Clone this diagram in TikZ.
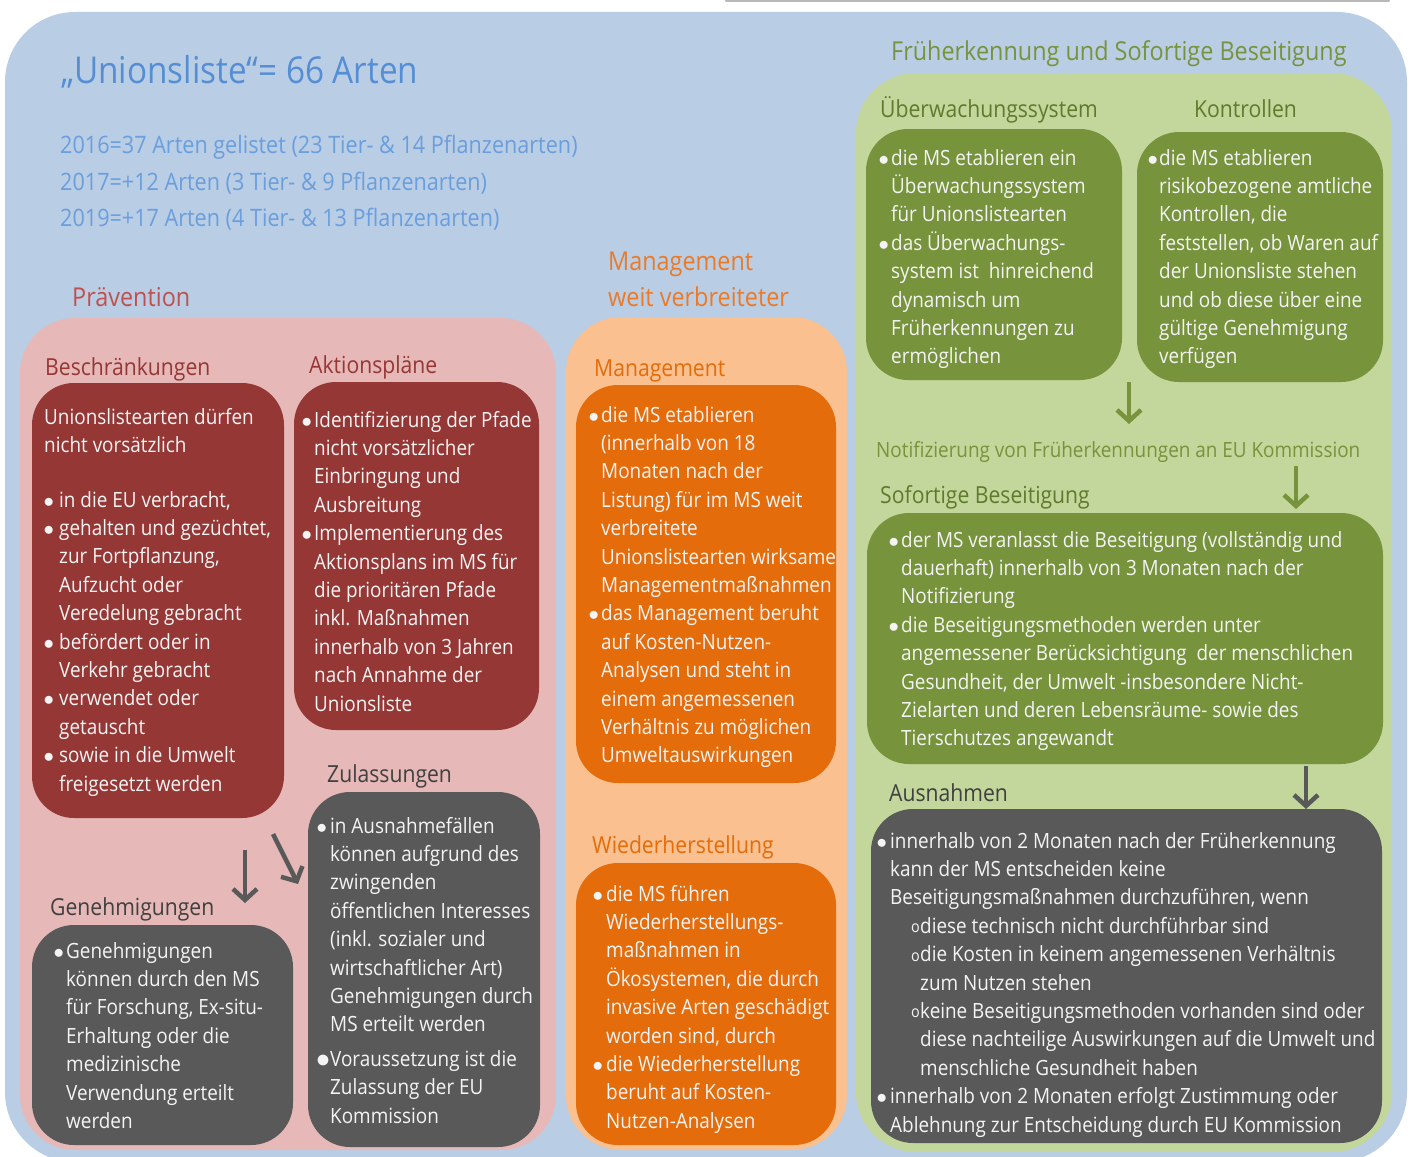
\documentclass[tikz,border=0pt]{standalone}
\usepackage{fontspec}
\setmainfont[FakeStretch=0.9]{Open Sans}
\usetikzlibrary{arrows.meta}
\definecolor{bgblue}{HTML}{B9CDE5}
\definecolor{titleblue}{HTML}{558ED5}
\definecolor{subblue}{HTML}{6A9EDD}
\definecolor{pinkbg}{HTML}{E6B9B8}
\definecolor{darkred}{HTML}{953735}
\definecolor{labred}{HTML}{C0504D}
\definecolor{boxgray}{HTML}{595959}
\definecolor{labgray}{HTML}{404040}
\definecolor{orangebg}{HTML}{FAC090}
\definecolor{darkorange}{HTML}{E46C0A}
\definecolor{laborange}{HTML}{EB7A26}
\definecolor{greenbg}{HTML}{C3D69B}
\definecolor{darkgreen}{HTML}{77933C}
\definecolor{labgreen}{HTML}{5E7B2D}
\definecolor{txtwhite}{HTML}{F4F4F4}
\newcommand\bodyf{\fontsize{21}{28.4}\selectfont}
\newcommand\labf{\fontsize{23.5}{28}\selectfont}
\newcommand\bigf{\fontsize{26}{36}\selectfont}
\newcommand\bl[1][11pt]{\makebox[#1][l]{\hspace*{-1.5pt}$\bullet$}}
\newcommand\bigbl[1][11pt]{\makebox[#1][l]{\hspace*{-2pt}\raisebox{-1.6pt}{\scalebox{1.35}{$\bullet$}}}}
\newcommand\ind[1][11pt]{\hspace*{#1}}
\newcommand\subo{\hspace*{33pt}\makebox[9pt][l]{\raisebox{0.5pt}{\fontsize{16}{16}\selectfont o}}}
\newcommand\tl[1]{\begin{tabular}[t]{@{}l@{}}#1\end{tabular}}
\begin{document}
\begin{tikzpicture}[x=1pt,y=-1pt,
  boxr/.style={rounded corners=42},
  body/.style={anchor=base west, inner sep=0pt, font=\bodyf, text=txtwhite},
  lab/.style={anchor=base west, inner sep=0pt, font=\labf},
  big/.style={anchor=base west, inner sep=0pt, font=\bigf},
  arr/.style={line width=4.5pt, -{Straight Barb[length=11pt,width=24pt]}}]
\useasboundingbox (0,0) rectangle (1410,1156);
% backgrounds
\fill[bgblue, rounded corners=70] (5,12) rectangle (1407,1162);
\draw[gray!55, line width=2.2pt, line cap=round] (726,0.6) -- (1389,0.6);
\fill[pinkbg, rounded corners=55] (20,318) rectangle (556,1150);
\fill[orangebg, rounded corners=55] (566,317) rectangle (847,1150);
\fill[greenbg, rounded corners=60] (856,73) rectangle (1392,1152);
% title
\node[anchor=base west, inner sep=0pt, font=\fontsize{37}{40}\selectfont, text=titleblue] (title) at (61,83) {„Unionsliste“= 66 Arten};
\node[anchor=base west, inner sep=0pt, font=\fontsize{24}{30}\selectfont, text=subblue] (y16) at (60,153) {2016=37 Arten gelistet (23 Tier- \& 14 Pflanzenarten)};
\node[anchor=base west, inner sep=0pt, font=\fontsize{24}{30}\selectfont, text=subblue] (y17) at (60,190) {2017=+12 Arten (3 Tier- \& 9 Pflanzenarten)};
\node[anchor=base west, inner sep=0pt, font=\fontsize{24}{30}\selectfont, text=subblue] (y19) at (60,226) {2019=+17 Arten (4 Tier- \& 13 Pflanzenarten)};
% section labels
\node[big, text=labred] (praev) at (72,306) {Prävention};
\node[big, text=laborange] (mgmtw) at (608,270) {\tl{Management\\weit verbreiteter}};
\node[big, text=darkgreen] (frueh) at (891,60) {Früherkennung und Sofortige Beseitigung};
% ---------- Prävention
\node[lab, text=darkred] (lbesch) at (45,375) {Beschränkungen};
\fill[darkred, boxr] (32,383) rectangle (284,818);
\node[body] (besch1) at (44,424) {\tl{Unionslistearten dürfen\\nicht vorsätzlich}};
\node[body] (besch2) at (45,507) {\tl{\bl[14pt]in die EU verbracht,\\
\bl[14pt]gehalten und gezüchtet,\\\ind[14pt]zur Fortpflanzung,\\\ind[14pt]Aufzucht oder\\\ind[14pt]Veredelung gebracht\\
\bl[14pt]befördert oder in\\\ind[14pt]Verkehr gebracht\\
\bl[14pt]verwendet oder\\\ind[14pt]getauscht\\
\bl[14pt]sowie in die Umwelt\\\ind[14pt]freigesetzt werden}};

\node[lab, text=darkred] (lakt) at (309,373) {Aktionspläne};
\fill[darkred, boxr] (294,382) rectangle (539,730);
\node[body] (akt) at (303,427) {\tl{\bl Identifizierung der Pfade\\\ind nicht vorsätzlicher\\\ind Einbringung und\\\ind Ausbreitung\\
\bl Implementierung des\\\ind Aktionsplans im MS für\\\ind die prioritären Pfade\\\ind inkl. Maßnahmen\\\ind innerhalb von 3 Jahren\\\ind nach Annahme der\\\ind Unionsliste}};

\node[lab, text=labgray] (lzul) at (327,782) {Zulassungen};
\fill[boxgray, boxr] (308,792) rectangle (540,1147);
\node[body] (zul) at (318,833) {\tl{\bl[12pt]in Ausnahmefällen\\\ind[12pt]können aufgrund des\\\ind[12pt]zwingenden\\\ind[12pt]öffentlichen Interesses\\\ind[12pt](inkl. sozialer und\\\ind[12pt]wirtschaftlicher Art)\\\ind[12pt]Genehmigungen durch\\\ind[12pt]MS erteilt werden\\[6pt]
\bigbl[12pt]Voraussetzung ist die\\\ind[12pt]Zulassung der EU\\\ind[12pt]Kommission}};

\node[lab, text=labgray] (lgen) at (50,915) {Genehmigungen};
\fill[boxgray, boxr] (32,925) rectangle (293,1145);
\node[body] (gen) at (55,958) {\tl{\bl Genehmigungen\\\ind können durch den MS\\\ind für Forschung, Ex-situ-\\\ind Erhaltung oder die\\\ind medizinische\\\ind Verwendung erteilt\\\ind werden}};

\coordinate (g1s) at (245,850); \coordinate (g1e) at (245,903);
\coordinate (g2s) at (273,834); \coordinate (g2e) at (298,884);
\draw[arr, boxgray] (g1s) -- (g1e);
\draw[arr, boxgray] (g2s) -- (g2e);
% ---------- Management
\node[lab, text=darkorange] (lmgmt) at (594,376) {Management};
\fill[darkorange, boxr] (576,385) rectangle (836,783);
\node[body] (mgmt) at (590,422) {\tl{\bl die MS etablieren\\\ind (innerhalb von 18\\\ind Monaten nach der\\\ind Listung) für im MS weit\\\ind verbreitete\\\ind Unionslistearten wirksame\\\ind Managementmaßnahmen\\
\bl das Management beruht\\\ind auf Kosten-Nutzen-\\\ind Analysen und steht in\\\ind einem angemessenen\\\ind Verhältnis zu möglichen\\\ind Umweltauswirkungen}};

\node[lab, text=darkorange] (lwied) at (592,853) {Wiederherstellung};
\fill[darkorange, boxr] (576,863) rectangle (836,1145);
\node[body] (wied) at (594,901) {\tl{\bl[12pt]die MS führen\\\ind[12pt]Wiederherstellungs-\\\ind[12pt]maßnahmen in\\\ind[12pt]Ökosystemen, die durch\\\ind[12pt]invasive Arten geschädigt\\\ind[12pt]worden sind, durch\\
\bl[12pt]die Wiederherstellung\\\ind[12pt]beruht auf Kosten-\\\ind[12pt]Nutzen-Analysen}};
% ---------- Früherkennung
\node[lab, text=labgreen] (lueb) at (880,117) {Überwachungssystem};
\fill[darkgreen, boxr] (866,129) rectangle (1122,380);
\node[body] (ueb) at (880,165) {\tl{\bl die MS etablieren ein\\\ind Überwachungssystem\\\ind für Unionslistearten\\
\bl das Überwachungs-\\\ind system ist~ hinreichend\\\ind dynamisch um\\\ind Früherkennungen zu\\\ind ermöglichen}};

\node[lab, text=labgreen] (lkon) at (1194,117) {Kontrollen};
\fill[darkgreen, boxr] (1137,132) rectangle (1383,382);
\node[body] (kon) at (1149,165) {\tl{\bl[10pt]die MS etablieren\\\ind[10pt]risikobezogene amtliche\\\ind[10pt]Kontrollen, die\\\ind[10pt]feststellen, ob Waren auf\\\ind[10pt]der Unionsliste stehen\\\ind[10pt]und ob diese über eine\\\ind[10pt]gültige Genehmigung\\\ind[10pt]verfügen}};

\coordinate (n1s) at (1129,382); \coordinate (n1e) at (1129,424);
\draw[arr, darkgreen] (n1s) -- (n1e);
\node[anchor=base west, inner sep=0pt, font=\bodyf, text=darkgreen] (notif) at (876,457) {Notifizierung von Früherkennungen an EU Kommission};
\coordinate (n2s) at (1296,466); \coordinate (n2e) at (1296,509);
\draw[arr, darkgreen] (n2s) -- (n2e);

\node[lab, text=labgreen] (lsof) at (880,503) {Sofortige Beseitigung};
\fill[darkgreen, boxr] (867,513) rectangle (1383,764);
\node[body] (sof) at (890,547) {\tl{\bl der MS veranlasst die Beseitigung (vollständig und\\\ind dauerhaft) innerhalb von 3 Monaten nach der\\\ind Notifizierung\\
\bl die Beseitigungsmethoden werden unter\\\ind angemessener Berücksichtigung~ der menschlichen\\\ind Gesundheit, der Umwelt -insbesondere Nicht-\\\ind Zielarten und deren Lebensräume- sowie des\\\ind Tierschutzes angewandt}};

\coordinate (a3s) at (1306,766); \coordinate (a3e) at (1306,809);
\draw[arr, boxgray] (a3s) -- (a3e);
\node[lab, text=labgray] (laus) at (889,801) {Ausnahmen};
\fill[boxgray, boxr] (871,809) rectangle (1382,1143);
\node[body] (aus) at (878,848) {\tl{\bl[12pt]innerhalb von 2 Monaten nach der Früherkennung\\\ind[12pt]kann der MS entscheiden keine\\\ind[12pt]Beseitigungsmaßnahmen durchzuführen, wenn\\
\subo diese technisch nicht durchführbar sind\\
\subo die Kosten in keinem angemessenen Verhältnis\\\hspace*{42pt}zum Nutzen stehen\\
\subo keine Beseitigungsmethoden vorhanden sind oder\\\hspace*{42pt}diese nachteilige Auswirkungen auf die Umwelt und\\\hspace*{42pt}menschliche Gesundheit haben\\
\bl[12pt]innerhalb von 2 Monaten erfolgt Zustimmung oder\\\ind[12pt]Ablehnung zur Entscheidung durch EU Kommission}};
\end{tikzpicture}
\end{document}
